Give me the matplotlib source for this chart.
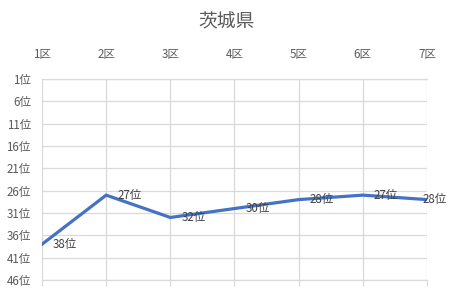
import matplotlib
matplotlib.use("Agg")
import matplotlib.pyplot as plt

plt.rcParams['font.family'] = ['Noto Sans CJK JP', 'DejaVu Sans']

categories = ["1区", "2区", "3区", "4区", "5区", "6区", "7区"]
ranks = [38, 27, 32, 30, 28, 27, 28]
yticks = [1, 6, 11, 16, 21, 26, 31, 36, 41, 46]
title = "茨城県"

W, H = 452, 301
fig = plt.figure(figsize=(W / 100, H / 100), dpi=100)
ax = fig.add_axes([42 / W, 1 - 280 / H, (427 - 42) / W, (280 - 79) / H])

x = list(range(len(categories)))
ax.plot(x, ranks, color="#4472C4", lw=2.3, solid_joinstyle="miter", zorder=3)
for i, (xi, r) in enumerate(zip(x, ranks)):
    if i == len(x) - 1:
        ax.annotate(f"{r}位", (xi, r), xytext=(14, 0), textcoords="offset points",
                    ha="right", va="center", fontsize=8.3, color="#404040", zorder=4)
    else:
        ax.annotate(f"{r}位", (xi, r), xytext=(8, 0), textcoords="offset points",
                    ha="left", va="center", fontsize=8.3, color="#404040", zorder=4)

ax.set_xlim(0, len(categories) - 1)
ax.set_ylim(46, 1)
ax.set_xticks(x)
ax.set_xticklabels(categories)
ax.set_yticks(yticks)
ax.set_yticklabels([f"{v}位" for v in yticks])
ax.xaxis.tick_top()
ax.tick_params(axis="x", which="both", top=False, bottom=True, labeltop=True,
               labelbottom=False, length=4, color="#D9D9D9", pad=9,
               labelsize=8.3, labelcolor="#595959")
ax.tick_params(axis="y", length=0, pad=8, labelsize=8.3, labelcolor="#595959")
ax.grid(True, color="#D9D9D9", lw=0.9)
ax.set_axisbelow(True)
for s in ax.spines.values():
    s.set_visible(False)
ax.plot([0, len(categories) - 1], [1, 1], color="#D9D9D9", lw=0.9, clip_on=False, zorder=1)
ax.plot([0, len(categories) - 1], [46, 46], color="#D9D9D9", lw=0.9, clip_on=False, zorder=1)

fig.text(0.5, 1 - 22 / H, title, ha="center", va="center", fontsize=13.5, color="#595959")

fig.savefig("out.png", dpi=100, facecolor="white")
